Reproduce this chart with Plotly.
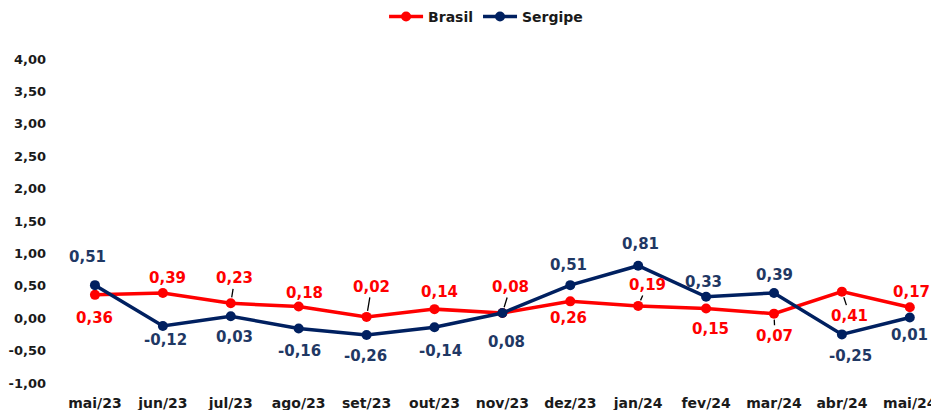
import plotly.graph_objects as go

months = ["mai/23", "jun/23", "jul/23", "ago/23", "set/23", "out/23", "nov/23",
          "dez/23", "jan/24", "fev/24", "mar/24", "abr/24", "mai/24"]
brasil = [0.36, 0.39, 0.23, 0.18, 0.02, 0.14, 0.08, 0.26, 0.19, 0.15, 0.07, 0.41, 0.17]
sergipe = [0.51, -0.12, 0.03, -0.16, -0.26, -0.14, 0.08, 0.51, 0.81, 0.33, 0.39, -0.25, 0.01]
y_ticks = [-1.0, -0.5, 0.0, 0.5, 1.0, 1.5, 2.0, 2.5, 3.0, 3.5, 4.0]

# label placement styles (pixel offsets of label centre from point, leader line flag)
brasil_lbl = [(0, 23, 0), (5, -15, 0), (4, -25, 1), (6, -14, 0), (5, -30, 1), (5, -17, 0),
              (8, -26, 1), (-2, 17, 0), (9, -21, 1), (4, 21, 0), (1, 22, 1), (8, 24, 1), (2, -15, 0)]
sergipe_lbl = [(-7, -28, 0), (3, 14, 0), (4, 21, 0), (1, 22, 0), (-1, 21, 0), (6, 24, 0),
               (4, 29, 0), (-2, -20, 0), (2, -22, 0), (-3, -15, 0), (1, -18, 0), (9, 22, 0), (0, 17, 0)]

RED = "#FF0000"
NAVY = "#002060"
NAVY_TXT = "#1F3864"
FONT = "DejaVu Sans"


def fmt(v):
    return f"{v:.2f}".replace(".", ",")


fig = go.Figure()
fig.add_trace(go.Scatter(x=months, y=brasil, name="Brasil", mode="lines+markers",
                         line=dict(color=RED, width=3.5), marker=dict(size=10, color=RED),
                         cliponaxis=False))
fig.add_trace(go.Scatter(x=months, y=sergipe, name="Sergipe", mode="lines+markers",
                         line=dict(color=NAVY, width=3.5), marker=dict(size=10, color=NAVY),
                         cliponaxis=False))

annotations = []
for vals, styles, color in [(brasil, brasil_lbl, RED), (sergipe, sergipe_lbl, NAVY_TXT)]:
    for m, v, (dx, dy, lead) in zip(months, vals, styles):
        a = dict(x=m, y=v, xref="x", yref="y", text=fmt(v),
                 font=dict(family=FONT, size=15, color=color, weight="bold"))
        if lead:
            a.update(showarrow=True, ax=dx, ay=dy, arrowhead=0, arrowwidth=1.3,
                     arrowcolor="#000000", standoff=6)
        else:
            a.update(showarrow=False, xshift=dx, yshift=-dy)
        annotations.append(a)

ymin, ymax = y_ticks[0], y_ticks[-1]
xr = [-0.5, 12.43]

fig.update_layout(
    width=931, height=402,
    margin=dict(l=53, r=0, t=51, b=27, autoexpand=False),
    paper_bgcolor="white", plot_bgcolor="white",
    font=dict(family=FONT, color="#262626"),
    showlegend=True,
    legend=dict(orientation="h", xref="container", yref="container",
                x=0.5135, xanchor="center", y=0.978, yanchor="middle",
                font=dict(family=FONT, size=14, color="#1a1a1a", weight="bold"),
                itemwidth=34, bgcolor="rgba(0,0,0,0)"),
    annotations=annotations,
    xaxis=dict(type="category", range=xr, showgrid=False, zeroline=False, showline=False,
               ticks="", tickfont=dict(family=FONT, size=14, color="#1a1a1a", weight="bold"),
               ticklabelstandoff=10),
    xaxis2=dict(overlaying="x", anchor="free", position=(0 - ymin) / (ymax - ymin),
                range=xr, type="linear", showgrid=False, zeroline=False,
                showline=True, linecolor="#D9D9D9", linewidth=1.5,
                tickvals=[i - 0.5 for i in range(len(months) + 1)],
                ticks="outside", ticklen=5, tickcolor="#D9D9D9", tickwidth=1.2,
                showticklabels=False, side="bottom"),
    yaxis=dict(range=[ymin, ymax], tickvals=y_ticks, ticktext=[fmt(t) for t in y_ticks],
               showgrid=False, zeroline=False, showline=False, ticks="",
               tickfont=dict(family=FONT, size=13, color="#1a1a1a", weight="bold"),
               ticklabelstandoff=14),
)

fig.write_html("out.html")
